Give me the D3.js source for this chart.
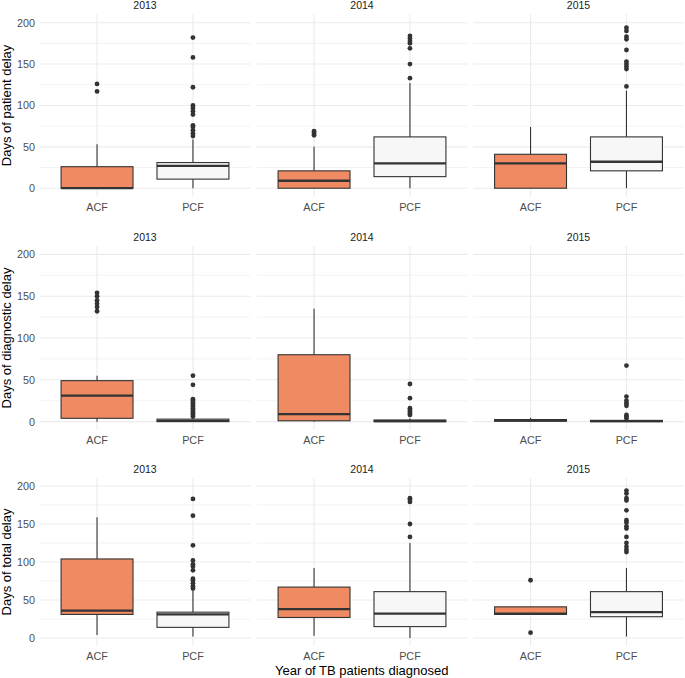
<!DOCTYPE html>
<html>
<head>
<meta charset="utf-8">
<script src="https://cdn.jsdelivr.net/npm/d3@7"></script>
<style>
body{margin:0;background:#fff}
svg text{font-family:"Liberation Sans",Arial,Helvetica,sans-serif}
</style>
</head>
<body>
<svg></svg>
<script>
var years = ["2013","2014","2015"];
var groups = ["ACF","PCF"];
var groupColors = ["#EF8A62","#F7F7F7"];
var yTicks = [0,50,100,150,200];
var yMinor = [25,75,125,175];
var rowTitles = ["Days of patient delay","Days of diagnostic delay","Days of total delay"];
var xTitle = "Year of TB patients diagnosed";

// [lower whisker, q1, median, q3, upper whisker]
// order: 2013 ACF, 2013 PCF, 2014 ACF, 2014 PCF, 2015 ACF, 2015 PCF
var patientBoxes = [
  [0,0,0,26,53],[0,11,27,31,59],
  [0,0,9,21,50],[0,14,30,62,127],
  [0,0,30,41,74],[0,21,32,62,118]
];
var patientOutliers = [
  [117,126],
  [63,66,70,74,76,89,93,97,100,122,158,182],
  [64,66,68,69],
  [133,150,169,175,178,181,184],
  [],
  [123,144,147,150,153,167,180,183,190,194]
];

var diagBoxes = [
  [0,4,31,49,55],[0,0,1,3,5],
  [0,1,9,80,135],[0,0,0.5,2,4],
  [0,0.5,1.5,2.5,4.5],[0,0,0.5,1.5,3]
];
var diagOutliers = [
  [132,137,141,145,150,154],
  [6,8,10,12,14,16,18,20,22,24,26,27,44,55],
  [],
  [8,10,12,14,16,28,45],
  [],
  [4,6,8,19,22,25,30,67]
];

var totalBoxes = [
  [4,31,36,104,159],[2,14,31,34,62],
  [3,27,38,67,92],[0,15,32,61,125],
  [31,31,32,41,41],[2,28,34,61,92]
];
var totalOutliers = [
  [],
  [65,68,72,76,78,89,94,97,102,122,161,183],
  [],
  [133,150,179,182,184],
  [7,76],
  [113,116,120,125,133,144,147,152,155,168,181,184,190,194]
];

var allBoxes = [patientBoxes, diagBoxes, totalBoxes];
var allOutliers = [patientOutliers, diagOutliers, totalOutliers];

// layout
var width = 685, height = 678;
var rows = [
  {top:14.4, bottom:196.5},
  {top:246, bottom:430},
  {top:478.4, bottom:645.6}
];
var cols = [
  {left:39.5, right:250.5},
  {left:256.5, right:467.5},
  {left:473, right:684}
];

var svg = d3.select("svg")
  .attr("width",width)
  .attr("height",height);

var drawPanel = function(r,c)
{
  var row = rows[r], col = cols[c];
  var yScale = d3.scaleLinear()
    .domain([-10,210])
    .range([row.bottom,row.top]);
  var xScale = d3.scalePoint()
    .domain(groups)
    .range([col.left,col.right])
    .padding(0.6);
  var boxW = xScale.step()*0.75;

  var g = svg.append("g");

  // grid
  g.selectAll(".minor").data(yMinor).enter().append("line")
    .attr("x1",col.left).attr("x2",col.right)
    .attr("y1",function(d){return yScale(d);})
    .attr("y2",function(d){return yScale(d);})
    .attr("stroke","#EBEBEB").attr("stroke-width",0.6);
  g.selectAll(".major").data(yTicks).enter().append("line")
    .attr("x1",col.left).attr("x2",col.right)
    .attr("y1",function(d){return yScale(d);})
    .attr("y2",function(d){return yScale(d);})
    .attr("stroke","#EBEBEB").attr("stroke-width",1.1);
  g.selectAll(".vmajor").data(groups).enter().append("line")
    .attr("x1",function(d){return xScale(d);})
    .attr("x2",function(d){return xScale(d);})
    .attr("y1",row.top).attr("y2",row.bottom)
    .attr("stroke","#EBEBEB").attr("stroke-width",1.1);

  // strip
  svg.append("text")
    .text(years[c])
    .attr("x",(col.left+col.right)/2)
    .attr("y",row.top-5)
    .attr("text-anchor","middle")
    .attr("font-size","10.5px")
    .attr("fill","#1A1A1A");

  // x tick labels
  g.selectAll(".xt").data(groups).enter().append("text")
    .text(function(d){return d;})
    .attr("x",function(d){return xScale(d);})
    .attr("y",row.bottom+14.3)
    .attr("text-anchor","middle")
    .attr("font-size","10.8px")
    .attr("fill","#4D4D4D");

  // y tick labels, first column only
  if(c==0)
  {
    g.selectAll(".yt").data(yTicks).enter().append("text")
      .text(function(d){return d;})
      .attr("x",col.left-4.5)
      .attr("y",function(d){return yScale(d)+3.9;})
      .attr("text-anchor","end")
      .attr("font-size","10.8px")
      .attr("fill","#4D4D4D");
  }

  groups.forEach(function(grp,k)
  {
    var s = allBoxes[r][c*2+k];
    var outs = allOutliers[r][c*2+k];
    var cx = xScale(grp);

    // whiskers
    g.append("line")
      .attr("x1",cx).attr("x2",cx)
      .attr("y1",yScale(s[3])).attr("y2",yScale(s[4]))
      .attr("stroke","#333333").attr("stroke-width",1.1);
    g.append("line")
      .attr("x1",cx).attr("x2",cx)
      .attr("y1",yScale(s[1])).attr("y2",yScale(s[0]))
      .attr("stroke","#333333").attr("stroke-width",1.1);

    // box
    g.append("rect")
      .attr("x",cx-boxW/2)
      .attr("width",boxW)
      .attr("y",yScale(s[3]))
      .attr("height",Math.max(0.01,yScale(s[1])-yScale(s[3])))
      .attr("fill",groupColors[k])
      .attr("stroke","#333333")
      .attr("stroke-width",1.1);

    // median
    g.append("line")
      .attr("x1",cx-boxW/2).attr("x2",cx+boxW/2)
      .attr("y1",yScale(s[2])).attr("y2",yScale(s[2]))
      .attr("stroke","#333333").attr("stroke-width",2.3);

    // outliers
    g.selectAll(".out"+k).data(outs).enter().append("circle")
      .attr("cx",cx)
      .attr("cy",function(d){return yScale(d);})
      .attr("r",2.4)
      .attr("fill","#333333");
  });
}

for(var r=0;r<3;r++)
{
  for(var c=0;c<3;c++)
  {
    drawPanel(r,c);
  }
  // y axis title per row
  var cy = (rows[r].top+rows[r].bottom)/2;
  svg.append("text")
    .text(rowTitles[r])
    .attr("transform","translate(11,"+cy+") rotate(-90)")
    .attr("text-anchor","middle")
    .attr("font-size","13px")
    .attr("fill","#000");
}

svg.append("text")
  .text(xTitle)
  .attr("x",(cols[0].left+cols[2].right)/2)
  .attr("y",674.5)
  .attr("text-anchor","middle")
  .attr("font-size","13px")
  .attr("fill","#000");
</script>
</body>
</html>
